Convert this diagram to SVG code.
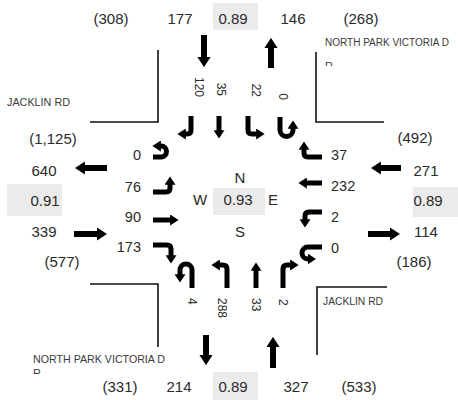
<svg xmlns="http://www.w3.org/2000/svg" width="458" height="400" viewBox="0 0 458 400">
<style>
text{font-family:"Liberation Sans",Arial,sans-serif;fill:#2a2a2a}
.n{font-size:15px;text-anchor:middle}
.a{font-size:14.5px}
.v{font-size:12px}
.lbl{font-size:11px;fill:#3a3a3a}
.box{fill:#ebebeb}
.road{stroke:#111;stroke-width:1.6;fill:none}
.big{stroke:#000;stroke-width:6;fill:none;marker-end:url(#ah)}
.sm{stroke:#000;stroke-width:5;fill:none;stroke-linejoin:round;marker-end:url(#ah)}
</style>
<defs>
<marker id="ah" viewBox="0 0 10 13" refX="1" refY="6.5" markerWidth="1.7" markerHeight="2.2" orient="auto" markerUnits="strokeWidth"><path d="M0,0 L10,6.5 L0,13 z" fill="#000"/></marker>
<clipPath id="c1"><rect x="320" y="55" width="20" height="11"/></clipPath>
<clipPath id="c2"><rect x="28" y="362" width="20" height="12"/></clipPath>
</defs>
<rect width="458" height="400" fill="#fff"/>

<g id="roads">
<path class="road" d="M90,122 H158 V50"/>
<path class="road" d="M384,122 H316 V52"/>
<path class="road" d="M90,284 H158 V347"/>
<path class="road" d="M387,287 H317 V355"/>
</g>

<g id="north">
<rect class="box" x="213" y="3" width="45" height="27"/>
<text class="n" x="111" y="24">(308)</text>
<text class="n" x="180" y="24">177</text>
<text class="n" x="233" y="24">0.89</text>
<text class="n" x="293" y="24">146</text>
<text class="n" x="361" y="24">(268)</text>
<text class="lbl" x="325" y="46" style="font-size:10px">NORTH PARK VICTORIA D</text>
<text class="lbl" x="325" y="70" clip-path="url(#c1)">R</text>
<text class="v" transform="translate(195,97) rotate(90)" text-anchor="end">120</text>
<text class="v" transform="translate(217,96) rotate(90)" text-anchor="end">35</text>
<text class="v" transform="translate(252,97) rotate(90)" text-anchor="end">22</text>
<text class="v" transform="translate(279,100) rotate(90)" text-anchor="end">0</text>
</g>

<g id="west">
<text class="lbl" x="7" y="106" textLength="63" lengthAdjust="spacingAndGlyphs">JACKLIN RD</text>
<rect class="box" x="7" y="184" width="55" height="32"/>
<text class="n" x="53" y="144">(1,125)</text>
<text class="n" x="44" y="176">640</text>
<text class="n" x="45" y="206">0.91</text>
<text class="n" x="44" y="237">339</text>
<text class="n" x="62" y="267">(577)</text>
<text class="a" x="141" y="160" text-anchor="end">0</text>
<text class="a" x="141" y="192" text-anchor="end">76</text>
<text class="a" x="141" y="222" text-anchor="end">90</text>
<text class="a" x="141" y="252" text-anchor="end">173</text>
</g>

<g id="east">
<rect class="box" x="413" y="187" width="45" height="30"/>
<text class="n" x="415" y="143">(492)</text>
<text class="n" x="426" y="176">271</text>
<text class="n" x="428" y="206">0.89</text>
<text class="n" x="426" y="237">114</text>
<text class="n" x="414" y="267">(186)</text>
<text class="a" x="331" y="160">37</text>
<text class="a" x="331" y="191">232</text>
<text class="a" x="331" y="222">2</text>
<text class="a" x="331" y="253">0</text>
</g>

<g id="south">
<rect class="box" x="213" y="372" width="45" height="28"/>
<text class="n" x="120" y="392">(331)</text>
<text class="n" x="179" y="392">214</text>
<text class="n" x="233" y="392">0.89</text>
<text class="n" x="296" y="392">327</text>
<text class="n" x="359" y="392">(533)</text>
<text class="lbl" x="323" y="305" textLength="60" lengthAdjust="spacingAndGlyphs">JACKLIN RD</text>
<text class="lbl" x="33" y="363" textLength="132" lengthAdjust="spacingAndGlyphs">NORTH PARK VICTORIA D</text>
<text class="lbl" x="33" y="377" clip-path="url(#c2)">R</text>
<text class="v" transform="translate(188,298) rotate(90)">4</text>
<text class="v" transform="translate(218,298) rotate(90)">288</text>
<text class="v" transform="translate(252,298) rotate(90)">33</text>
<text class="v" transform="translate(279,299) rotate(90)">2</text>
</g>

<g id="center">
<rect class="box" x="213" y="188" width="52" height="27"/>
<text class="n" x="240" y="183">N</text>
<text class="n" x="200" y="205">W</text>
<text class="n" x="238" y="205">0.93</text>
<text class="n" x="273" y="205">E</text>
<text class="n" x="240" y="237">S</text>
</g>

<g id="connectors">
<path class="big" d="M204,35 V58"/>
<path class="big" d="M271,68 V47"/>
<path class="big" d="M107,168 H84"/>
<path class="big" d="M74,234 H98"/>
<path class="big" d="M401,168 H380"/>
<path class="big" d="M368,234 H391"/>
<path class="big" d="M206,335 V356"/>
<path class="big" d="M273,368 V346"/>

<path class="sm" d="M191,116 V130 Q191,134 187,134 H185"/>
<path class="sm" d="M219,116 V131"/>
<path class="sm" d="M248,116 V130 Q248,134 252,134 H257"/>
<path class="sm" d="M280,117 V130 A6.5,6.5 0 0 0 293,130 V128"/>

<path class="sm" d="M322,157 H308 Q304,157 304,153 V149"/>
<path class="sm" d="M322,183 H306"/>
<path class="sm" d="M322,212 H309 Q305,212 305,216 V220"/>
<path class="sm" d="M322,247 H308 A6,6 0 0 0 308,259 H308.5"/>

<path class="sm" d="M153,157 H161 A5.5,5.5 0 0 0 161,146 H160"/>
<path class="sm" d="M153,192 H166 Q170,192 170,188 V184"/>
<path class="sm" d="M153,220 H171"/>
<path class="sm" d="M153,245 H167 Q171,245 171,249 V256"/>

<path class="sm" d="M192,288 V270 A6,6 0 0 0 180,270 V275"/>
<path class="sm" d="M227,288 V269 Q227,265 223,265 H219"/>
<path class="sm" d="M256,288 V270"/>
<path class="sm" d="M283,288 V269 Q283,265 287,265 H291"/>
</g>
</svg>
